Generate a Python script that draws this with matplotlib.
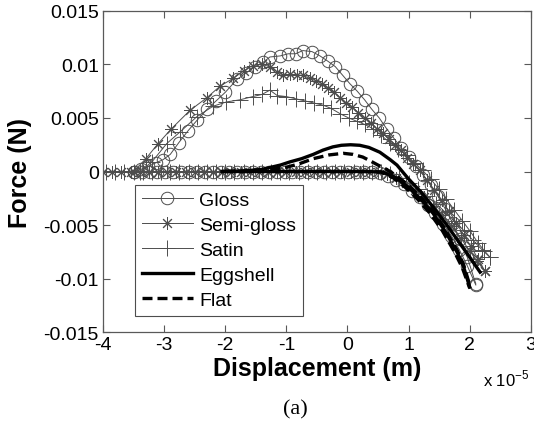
import numpy as np
import matplotlib
matplotlib.use('Agg')
import matplotlib.pyplot as plt

plt.rcParams['font.family'] = ['Liberation Sans', 'DejaVu Sans']
plt.rcParams['mathtext.fontset'] = 'custom'
plt.rcParams['mathtext.rm'] = 'Liberation Sans'

# displacement in units of 1e-5 m, force in mN
gloss_x_app = [-3.5, -3.38, -3.26, -3.14, -3.02, -2.9, -2.76, -2.61, -2.46, -2.3, -2.15, -2.0, -1.81, -1.66, -1.51,
               -1.38, -1.27, -1.1, -0.97, -0.85, -0.73, -0.58, -0.45, -0.32, -0.2, -0.08, 0.04, 0.16, 0.28, 0.4,
               0.52, 0.64, 0.76, 0.88, 1.0, 1.12, 1.24, 1.36, 1.48, 1.6, 1.72, 1.84, 1.96, 2.1]
gloss_f_app = [0, 0.2, 0.5, 0.8, 1.1, 1.6, 2.7, 3.8, 4.8, 5.8, 6.6, 7.4, 8.6, 9.2, 9.8,
               10.2, 10.7, 10.8, 11.0, 11.0, 11.3, 11.2, 10.8, 10.3, 9.8, 9.0, 8.2, 7.5, 6.7, 5.8,
               5.0, 4.0, 3.1, 2.2, 1.4, 0.5, -0.3, -1.3, -2.3, -3.5, -4.8, -6.3, -8.0, -10.5]
gloss_x_ret = [-3.5, -3.37, -3.24, -3.11, -2.98, -2.85, -2.72, -2.59, -2.46, -2.33, -2.2, -2.07, -1.94, -1.81, -1.68,
               -1.55, -1.42, -1.29, -1.16, -1.03, -0.9, -0.77, -0.64, -0.51, -0.38, -0.25, -0.12, 0.01, 0.14, 0.27,
               0.4, 0.53, 0.66, 0.79, 0.92, 1.05, 1.18, 1.31, 1.44, 1.57, 1.7, 1.83, 1.96, 2.1]
gloss_f_ret = [0, 0, 0, 0, 0, 0, 0, 0, 0, 0, 0, 0, 0, 0, 0,
               0, 0, 0, 0, 0, 0, 0, 0, 0, 0, 0, 0, 0, 0, 0,
               0, -0.1, -0.4, -0.8, -1.2, -1.8, -2.4, -3.1, -3.9, -4.9, -6.0, -7.3, -8.8, -10.6]

semi_x_app = [-3.5, -3.3, -3.1, -2.88, -2.58, -2.3, -2.08, -1.87, -1.7, -1.55, -1.4, -1.27, -1.15, -1.05, -0.94,
              -0.83, -0.73, -0.62, -0.52, -0.42, -0.32, -0.22, -0.12, -0.02, 0.08, 0.18, 0.28, 0.38, 0.48, 0.58,
              0.68, 0.78, 0.88, 0.98, 1.08, 1.18, 1.3, 1.42, 1.54, 1.66, 1.78, 1.9, 2.02, 2.14, 2.25]
semi_f_app = [0, 1.2, 2.6, 4.0, 5.7, 6.9, 8.0, 8.7, 9.4, 9.9, 10.0, 9.8, 9.3, 9.0, 9.1,
              9.0, 9.0, 8.7, 8.5, 8.2, 7.8, 7.4, 6.9, 6.4, 6.0, 5.5, 5.0, 4.5, 4.0, 3.6,
              3.0, 2.5, 2.0, 1.3, 0.7, 0.1, -0.8, -1.7, -2.7, -3.7, -4.8, -5.9, -7.0, -8.2, -9.3]
semi_x_ret = [-4.0, -3.85, -3.7, -3.55, -3.4, -3.25, -3.1, -2.95, -2.8, -2.65, -2.5, -2.35, -2.2, -2.05, -1.9,
              -1.75, -1.6, -1.45, -1.3, -1.15, -1.0, -0.85, -0.7, -0.55, -0.4, -0.25, -0.1, 0.05, 0.2, 0.35,
              0.5, 0.65, 0.8, 0.95, 1.1, 1.25, 1.4, 1.55, 1.7, 1.85, 2.0, 2.12, 2.25]
semi_f_ret = [0, 0, 0, 0, 0, 0, 0, 0, 0, 0, 0, 0, 0, 0, 0,
              0, 0, 0, 0, 0, 0, 0, 0, 0, 0, 0, 0, 0, 0, 0,
              0, -0.2, -0.6, -1.1, -1.7, -2.4, -3.2, -4.1, -5.1, -6.2, -7.4, -8.4, -9.3]

satin_x_app = [-3.4, -3.2, -2.96, -2.74, -2.47, -2.2, -1.98, -1.76, -1.55, -1.4, -1.27, -1.15, -1.0, -0.85, -0.7,
               -0.55, -0.4, -0.27, -0.12, 0.02, 0.15, 0.28, 0.42, 0.55, 0.69, 0.83, 0.97, 1.1, 1.23, 1.36,
               1.49, 1.62, 1.75, 1.88, 2.01, 2.14, 2.24, 2.33]
satin_f_app = [0, 0.9, 2.6, 3.7, 5.1, 6.1, 6.5, 6.7, 7.0, 7.2, 7.6, 7.1, 7.0, 6.8, 6.6,
               6.4, 6.2, 5.9, 5.4, 5.0, 4.7, 4.4, 4.0, 3.4, 2.7, 2.1, 1.5, 0.8, 0.1, -0.7,
               -1.6, -2.6, -3.6, -4.6, -5.6, -6.7, -7.4, -8.0]
satin_x_ret = [-3.95, -3.8, -3.65, -3.5, -3.35, -3.2, -3.05, -2.9, -2.75, -2.6, -2.45, -2.3, -2.15, -2.0, -1.85,
               -1.7, -1.55, -1.4, -1.25, -1.1, -0.95, -0.8, -0.65, -0.5, -0.35, -0.2, -0.05, 0.1, 0.25, 0.4,
               0.55, 0.7, 0.85, 1.0, 1.15, 1.3, 1.45, 1.6, 1.75, 1.9, 2.05, 2.2, 2.33]
satin_f_ret = [0, 0, 0, 0, 0, 0, 0, 0, 0, 0, 0, 0, 0, 0, 0,
               0, 0, 0, 0, 0, 0, 0, 0, 0, 0, 0, 0, 0, 0, 0,
               0, -0.2, -0.6, -1.1, -1.6, -2.3, -3.0, -3.8, -4.6, -5.5, -6.4, -7.3, -8.0]

egg_x_app = [-2.05, -1.7, -1.4, -1.1, -0.94, -0.75, -0.56, -0.4, -0.24, -0.1, 0.05, 0.2, 0.35, 0.53, 0.7,
             0.81, 1.0, 1.2, 1.4, 1.6, 1.8, 2.0, 2.17]
egg_f_app = [0, 0.05, 0.2, 0.6, 0.9, 1.2, 1.6, 2.0, 2.3, 2.45, 2.5, 2.45, 2.25, 1.8, 1.1,
             0.6, -0.7, -1.9, -3.3, -4.8, -6.4, -8.0, -9.4]
egg_x_ret = [-2.05, -1.5, -1.0, -0.5, 0.0, 0.3, 0.58, 0.8, 1.0, 1.2, 1.4, 1.6, 1.8, 1.9, 2.0]
egg_f_ret = [0, 0, 0, 0, 0, 0, -0.05, -0.6, -1.5, -2.6, -3.9, -5.6, -7.6, -8.9, -10.8]

flat_x_app = [-2.0, -1.6, -1.3, -1.0, -0.8, -0.56, -0.3, -0.07, 0.09, 0.25, 0.37, 0.5, 0.64, 0.8, 1.0,
              1.2, 1.4, 1.6, 1.8, 1.9, 2.0]
flat_f_app = [0, 0.05, 0.15, 0.4, 0.7, 1.2, 1.55, 1.7, 1.6, 1.35, 1.0, 0.6, 0.2, -0.4, -1.3,
              -2.4, -3.7, -5.4, -7.4, -8.7, -10.6]
flat_x_ret = [-2.0, -1.5, -1.0, -0.5, 0.0, 0.3, 0.55, 0.75, 0.95, 1.15, 1.35, 1.55, 1.75, 1.88, 2.0]
flat_f_ret = [0, 0, 0, 0, 0, 0, -0.05, -0.6, -1.5, -2.6, -3.9, -5.5, -7.5, -9.0, -10.9]


def mn(vals):
    return np.array(vals) * 1e-3


fig = plt.figure(figsize=(5.34, 4.27), dpi=100)
ax = fig.add_axes([0.193, 0.22, 0.801, 0.752])

grey = '0.3'
marked = [
    ('Gloss', 'o', 9, gloss_x_app, gloss_f_app, gloss_x_ret, gloss_f_ret),
    ('Semi-gloss', (8, 2, 0), 9, semi_x_app, semi_f_app, semi_x_ret, semi_f_ret),
    ('Satin', '+', 11, satin_x_app, satin_f_app, satin_x_ret, satin_f_ret),
]
for label, mk, ms, xa, fa, xr, fr in marked:
    kw = dict(color=grey, lw=0.7, marker=mk, ms=ms, mfc='none', mec=grey, mew=0.7)
    ax.plot(xa, mn(fa), label=label, **kw)
    ax.plot(xr, mn(fr), **kw)

ax.plot(egg_x_app, mn(egg_f_app), color='black', lw=2.4, label='Eggshell')
ax.plot(egg_x_ret, mn(egg_f_ret), color='black', lw=2.4)
ax.plot(flat_x_app, mn(flat_f_app), color='black', lw=2.4, ls=(0, (3, 1.5)), label='Flat')
ax.plot(flat_x_ret, mn(flat_f_ret), color='black', lw=2.4, ls=(0, (3, 1.5)))

ax.set_xlim(-4, 3)
ax.set_ylim(-0.015, 0.015)
ax.set_xticks([-4, -3, -2, -1, 0, 1, 2, 3])
ax.set_yticks([-0.015, -0.01, -0.005, 0, 0.005, 0.01, 0.015])
ax.set_yticklabels(['-0.015', '-0.01', '-0.005', '0', '0.005', '0.01', '0.015'])
ax.set_xticklabels(['-4', '-3', '-2', '-1', '0', '1', '2', '3'])
ax.tick_params(direction='in', top=True, right=True, length=5, width=0.8,
               color='0.35', labelsize=14, pad=3)
for s in ax.spines.values():
    s.set_color('0.35')
    s.set_linewidth(0.9)

ax.set_xlabel('Displacement (m)', fontsize=18, fontweight='bold', labelpad=2)
ax.set_ylabel('Force (N)', fontsize=18, fontweight='bold', labelpad=8)
fig.text(0.905, 0.095, r'x 10$^{-5}$', fontsize=12, ha='left', va='baseline')
fig.text(0.553, 0.03, '(a)', fontsize=16, family='Liberation Serif', ha='center', va='baseline')

leg = ax.legend(loc='lower left', bbox_to_anchor=(0.075, 0.05), borderaxespad=0,
                fontsize=14, fancybox=False, edgecolor='0.3', framealpha=1,
                handlelength=2.6, labelspacing=0.38, borderpad=0.35, handletextpad=0.35)
leg.get_frame().set_linewidth(0.8)

fig.savefig('out.png', dpi=100)
